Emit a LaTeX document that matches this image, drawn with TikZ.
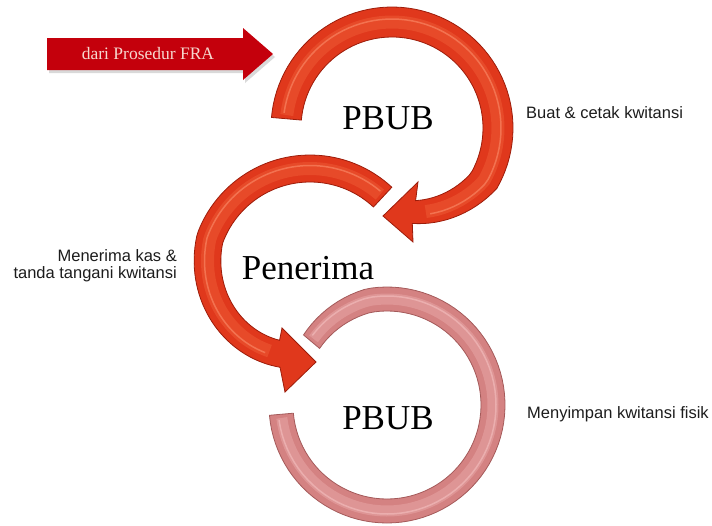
\documentclass[tikz,border=0pt]{standalone}
\usepackage{fontspec}
\setmainfont{Liberation Serif}
\setsansfont{Liberation Sans}

\definecolor{ringred}{HTML}{E0381C}
\definecolor{ringdark}{HTML}{9C1C0A}
\definecolor{ringlight}{HTML}{F0603A}
\definecolor{ringshine}{HTML}{FF9A78}
\definecolor{pinkring}{HTML}{D48282}
\definecolor{pinkdark}{HTML}{A45A5A}
\definecolor{pinklight}{HTML}{E8A6A6}
\definecolor{pinkshine}{HTML}{F4C0C0}
\definecolor{frared}{HTML}{C4000C}
\definecolor{fratext}{HTML}{F6D8CE}
\definecolor{labelgray}{HTML}{1C1C1C}

\begin{document}
\begin{tikzpicture}[x=1pt, y=-1pt,
  declare function={
    ro1(\t)=121-21*max(0,(\t-390)/43);  ri1(\t)=91-15*max(0,(\t-390)/43);
    ro2(\t)=120-23*max(0,(-160-\t)/92); ri2(\t)=93-21*max(0,(-160-\t)/85);
    ro3(\t)=118-9*max(0,(260-\t)/40);   ri3(\t)=94-6*max(0,(260-\t)/40);
  },
  redbody/.style={fill=ringred, draw=ringdark, line width=0.8pt},
  redhl/.style={draw=ringlight, line width=13pt, opacity=0.45},
  redshine/.style={draw=ringshine, line width=1.5pt, opacity=0.5},
  pinkbody/.style={fill=pinkring, draw=pinkdark, line width=0.8pt},
  pinkhl/.style={draw=pinklight, line width=11pt, opacity=0.55},
  pinkshine/.style={draw=pinkshine, line width=1.5pt, opacity=0.6},
  bigtext/.style={font=\fontsize{35}{40}\selectfont, inner sep=0pt},
  sidetext/.style={font=\sffamily\fontsize{16.5}{16.6}\selectfont, text=labelgray, inner sep=0pt}]
\useasboundingbox (0,0) rectangle (712,525);

% incoming arrow
\fill[black, opacity=0.15] (49,41) -- (245,41) -- (245,31) -- (275,57) -- (245,83) -- (245,73) -- (49,73) -- cycle;
\fill[frared] (47,38) -- (243,38) -- (243,28) -- (273,54) -- (243,80) -- (243,70) -- (47,70) -- cycle;
\node[font=\fontsize{17.5}{20}\selectfont, text=fratext, inner sep=0pt] (fra) at (148,54) {dari Prosedur FRA};

% ring 1
\begin{scope}[shift={(392,128)}]
\path[redbody] plot[domain=185:438, samples=80] ({ro1(\x)*cos(\x)}, {ro1(\x)*sin(\x)})
  -- (21,114) -- (-9,88) -- (26,54)
  -- plot[domain=432:185, samples=80] ({ri1(\x)*cos(\x)}, {ri1(\x)*sin(\x)}) -- cycle;
\draw[redhl] plot[domain=187:428, samples=70] ({(ro1(\x)+ri1(\x))/2*cos(\x)}, {(ro1(\x)+ri1(\x))/2*sin(\x)});
\draw[redshine] plot[domain=188:426, samples=70] ({((ro1(\x)+ri1(\x))/2+3)*cos(\x)}, {((ro1(\x)+ri1(\x))/2+3)*sin(\x)});
\end{scope}

% ring 2
\begin{scope}[shift={(310,275)}]
\path[redbody] plot[domain=-47:-252, samples=80] ({ro2(\x)*cos(\x)}, {ro2(\x)*sin(\x)})
  -- (-25,117) -- (6,87) -- (-28,53)
  -- plot[domain=-245:-47, samples=80] ({ri2(\x)*cos(\x)}, {ri2(\x)*sin(\x)}) -- cycle;
\draw[redhl] plot[domain=-49:-242, samples=70] ({(ro2(\x)+ri2(\x))/2*cos(\x)}, {(ro2(\x)+ri2(\x))/2*sin(\x)});
\draw[redshine] plot[domain=-50:-240, samples=70] ({((ro2(\x)+ri2(\x))/2+3)*cos(\x)}, {((ro2(\x)+ri2(\x))/2+3)*sin(\x)});
\end{scope}

% ring 3
\begin{scope}[shift={(387,405)}]
\path[pinkbody] plot[domain=220:535, samples=90] ({ro3(\x)*cos(\x)}, {ro3(\x)*sin(\x)})
  -- plot[domain=535:220, samples=90] ({ri3(\x)*cos(\x)}, {ri3(\x)*sin(\x)}) -- cycle;
\draw[pinkhl] plot[domain=222:533, samples=80] ({(ro3(\x)+ri3(\x))/2*cos(\x)}, {(ro3(\x)+ri3(\x))/2*sin(\x)});
\draw[pinkshine] plot[domain=223:532, samples=80] ({((ro3(\x)+ri3(\x))/2+3)*cos(\x)}, {((ro3(\x)+ri3(\x))/2+3)*sin(\x)});
\end{scope}

% titles
\node[bigtext] (pbubA) at (388,118) {PBUB};
\node[bigtext] (penerima) at (308,268) {Penerima};
\node[bigtext] (pbubB) at (388,418) {PBUB};

% notes
\node[sidetext, anchor=base west] (buat) at (526,118) {Buat \& cetak kwitansi};
\node[sidetext, anchor=east, align=right] (terima) at (177,266) {Menerima kas \&\\tanda tangani kwitansi};
\node[sidetext, anchor=base west] (simpan) at (527,418) {Menyimpan kwitansi fisik};
\end{tikzpicture}
\end{document}
